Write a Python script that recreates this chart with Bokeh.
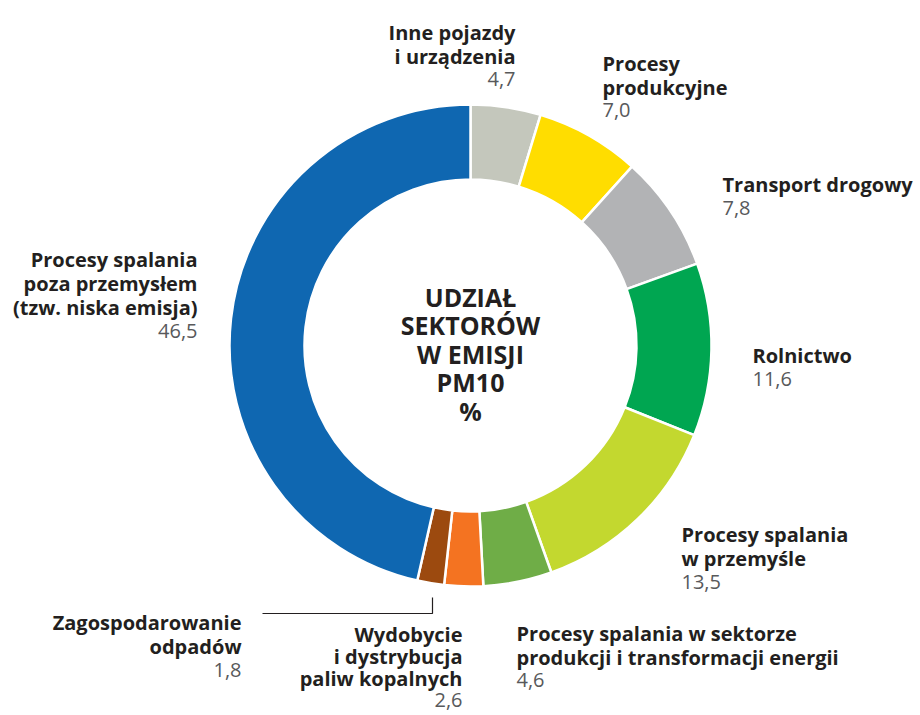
import math
from bokeh.plotting import figure
from bokeh.models import Range1d, ColumnDataSource
from bokeh.core.properties import value
from bokeh.embed import file_html
from bokeh.resources import INLINE

# ---------------- data ----------------
categories = [
    "Inne pojazdy\ni urządzenia",
    "Procesy\nprodukcyjne",
    "Transport drogowy",
    "Rolnictwo",
    "Procesy spalania\nw przemyśle",
    "Procesy spalania w sektorze\nprodukcji i transformacji energii",
    "Wydobycie\ni dystrybucja\npaliw kopalnych",
    "Zagospodarowanie\nodpadów",
    "Procesy spalania\npoza przemysłem\n(tzw. niska emisja)",
]
shares = [4.7, 7.0, 7.8, 11.6, 13.5, 4.6, 2.6, 1.8, 46.5]
colors = ["#c4c7bc", "#ffdd00", "#b2b3b5", "#00a651", "#c3d82f",
          "#6fad47", "#f47321", "#9c4a0f", "#0f67b1"]
title_lines = ["UDZIAŁ", "SEKTORÓW", "W EMISJI", "PM10", "%"]

# ---------------- layout (screen px) ----------------
W, H = 920, 715
def X(sx):
    return sx
def Y(sy):
    return H - sy

CX, CY = 470, 345
R_OUT, R_IN = 241, 166
FONT = "Open Sans"
LBL_SIZE = "20px"

# label anchor: (x, first baseline y, line step, align)
label_pos = [
    (515, 32, 23.5, "right"),
    (602, 63, 23.5, "left"),
    (722, 184, 24, "left"),
    (752, 355, 24, "left"),
    (681, 534, 24, "left"),
    (516, 633, 23.5, "left"),
    (462, 634, 22, "right"),
    (241, 622, 24, "right"),
    (197, 259, 24, "right"),
]

p = figure(width=W, height=H, output_backend="svg", toolbar_location=None,
           x_range=Range1d(0, W), y_range=Range1d(0, H), min_border=0)
p.axis.visible = False
p.grid.visible = False
p.outline_line_color = None
p.background_fill_color = "white"
p.border_fill_color = "white"

total = sum(shares)
starts, ends = [], []
cum = 0.0
for v in shares:
    a0 = math.pi / 2 - 2 * math.pi * cum / total
    cum += v
    a1 = math.pi / 2 - 2 * math.pi * cum / total
    starts.append(a1)
    ends.append(a0)

src = ColumnDataSource(dict(start=starts, end=ends, color=colors))
p.annular_wedge(x=X(CX), y=Y(CY), inner_radius=R_IN, outer_radius=R_OUT,
                start_angle="start", end_angle="end", fill_color="color",
                line_color="white", line_width=2.5, source=src)

# labels
for cat, v, (lx, ly, step, al) in zip(categories, shares, label_pos):
    lines = cat.split("\n")
    for i, ln in enumerate(lines):
        p.text(x=[X(lx)], y=[Y(ly + i * step)], text=[ln],
               text_font=value(FONT), text_font_style="bold",
               text_font_size=LBL_SIZE, text_color="#231f20",
               text_align=al, text_baseline="alphabetic")
    vy = ly + len(lines) * step - 1
    p.text(x=[X(lx)], y=[Y(vy)], text=[f"{v:.1f}".replace(".", ",")],
           text_font=value(FONT), text_font_size=LBL_SIZE,
           text_color="#58595b", text_align=al, text_baseline="alphabetic")

# leader line for small slice
p.line(x=[X(262), X(432), X(432)], y=[Y(613), Y(613), Y(597)],
       line_color="#231f20", line_width=1.2)

# centre title
for i, t in enumerate(title_lines):
    p.text(x=[X(CX)], y=[Y(296 + i * 28.5)], text=[t],
           text_font=value(FONT), text_font_style="bold",
           text_font_size="25px", text_color="#231f20",
           text_align="center", text_baseline="alphabetic")

open("out.html", "w").write(file_html(p, INLINE))
